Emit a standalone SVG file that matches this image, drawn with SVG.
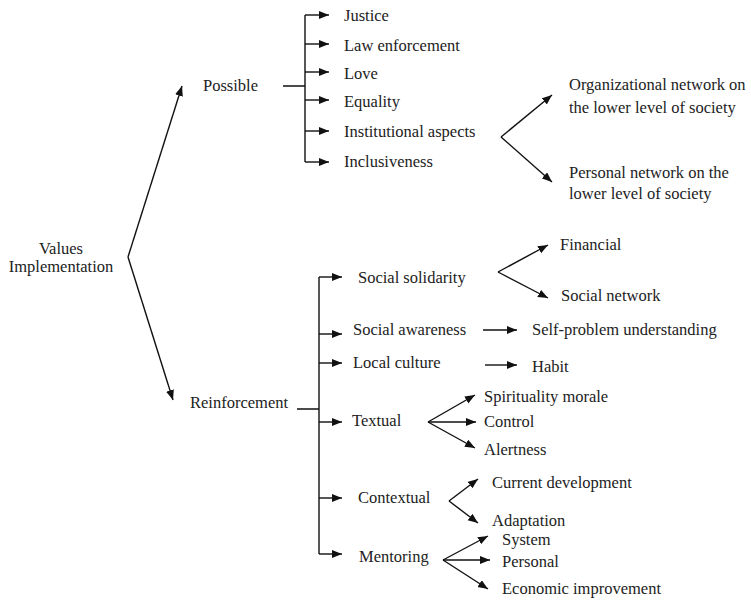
<svg xmlns="http://www.w3.org/2000/svg" width="751" height="602" viewBox="0 0 751 602">
<defs>
<marker id="ah" markerUnits="userSpaceOnUse" markerWidth="11" markerHeight="9" refX="10" refY="4" orient="auto">
<path d="M0,0 L10,4 L0,8 z" fill="#111"/>
</marker>
<style>
.c{stroke:#111;stroke-width:1.4;fill:none}
.a{marker-end:url(#ah)}
</style>
</defs>
<rect width="751" height="602" fill="#fff"/>
<g id="connectors">
<path class="c a" d="M128,257 L182,86"/>
<path class="c a" d="M128,257 L173,400"/>
<path class="c" d="M283,86 H305 M305,15 V162"/>
<path class="c a" d="M305,15 H329"/>
<path class="c a" d="M305,44 H329"/>
<path class="c a" d="M305,72 H329"/>
<path class="c a" d="M305,100 H329"/>
<path class="c a" d="M305,131 H329"/>
<path class="c a" d="M305,162 H329"/>
<path class="c a" d="M501,137 L552,95"/>
<path class="c a" d="M501,137 L552,182"/>
<path class="c" d="M297,409 H319 M319,277 V554"/>
<path class="c a" d="M319,277 H342"/>
<path class="c a" d="M319,334 H342"/>
<path class="c a" d="M319,363 H342"/>
<path class="c a" d="M319,422 H342"/>
<path class="c a" d="M319,498 H342"/>
<path class="c a" d="M319,554 H342"/>
<path class="c a" d="M498,272 L548,245"/>
<path class="c a" d="M498,272 L548,298"/>
<path class="c a" d="M483,330 H517"/>
<path class="c a" d="M485,365 H517"/>
<path class="c a" d="M428,422 L475,395"/>
<path class="c a" d="M428,422 H476"/>
<path class="c a" d="M428,422 L475,448"/>
<path class="c a" d="M449,501 L478,479"/>
<path class="c a" d="M449,501 L478,523"/>
<path class="c a" d="M443,560 L488,536"/>
<path class="c a" d="M443,560 H490"/>
<path class="c a" d="M443,560 L488,589"/>
</g>
<g font-family="Liberation Serif, serif" font-size="16.5" fill="#222">
<g id="root"><text x="61" y="254" text-anchor="middle">Values</text><text x="61" y="272" text-anchor="middle">Implementation</text></g>
<g id="possible"><text x="203" y="91">Possible</text></g>
<g id="justice"><text x="344" y="21">Justice</text></g>
<g id="law"><text x="344" y="51">Law enforcement</text></g>
<g id="love"><text x="344" y="79">Love</text></g>
<g id="equality"><text x="344" y="107">Equality</text></g>
<g id="institutional"><text x="344" y="137">Institutional aspects</text></g>
<g id="inclusiveness"><text x="344" y="167">Inclusiveness</text></g>
<g id="organizational"><text x="569" y="90">Organizational network on</text><text x="569" y="113">the lower level of society</text></g>
<g id="personalnet"><text x="569" y="178">Personal network on the</text><text x="569" y="199">lower level of society</text></g>
<g id="reinforcement"><text x="190" y="408">Reinforcement</text></g>
<g id="solidarity"><text x="358" y="283">Social solidarity</text></g>
<g id="financial"><text x="560" y="250">Financial</text></g>
<g id="socialnetwork"><text x="561" y="301">Social network</text></g>
<g id="awareness"><text x="353" y="335">Social awareness</text></g>
<g id="selfproblem"><text x="532" y="335">Self-problem understanding</text></g>
<g id="localculture"><text x="353" y="368">Local culture</text></g>
<g id="habit"><text x="532" y="372">Habit</text></g>
<g id="textual"><text x="352" y="426">Textual</text></g>
<g id="spirituality"><text x="484" y="402">Spirituality morale</text></g>
<g id="control"><text x="484" y="427">Control</text></g>
<g id="alertness"><text x="484" y="455">Alertness</text></g>
<g id="contextual"><text x="358" y="503">Contextual</text></g>
<g id="current"><text x="492" y="488">Current development</text></g>
<g id="adaptation"><text x="492" y="526">Adaptation</text></g>
<g id="mentoring"><text x="359" y="562">Mentoring</text></g>
<g id="system"><text x="502" y="545">System</text></g>
<g id="personal"><text x="502" y="567">Personal</text></g>
<g id="economic"><text x="502" y="594">Economic improvement</text></g>
</g>
</svg>
